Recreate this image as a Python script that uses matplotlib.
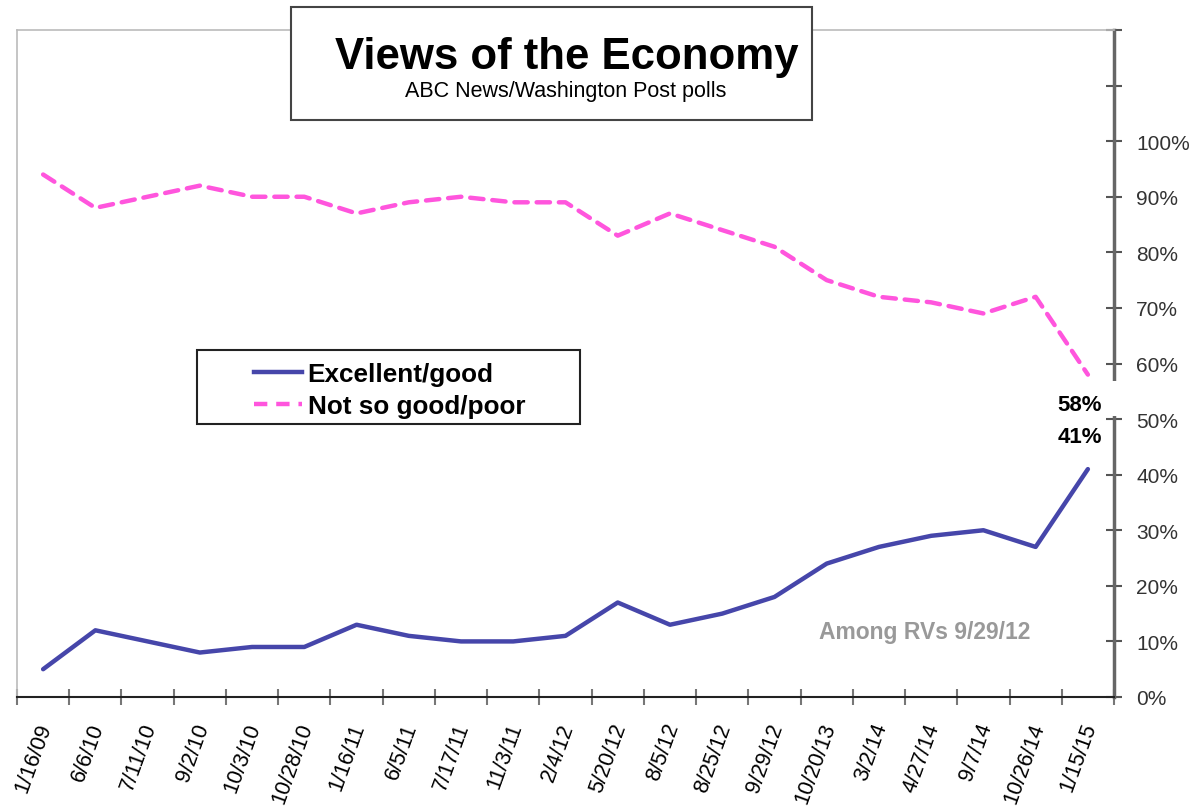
import matplotlib.pyplot as plt
import matplotlib.transforms as mtransforms
from matplotlib.patches import Rectangle
from matplotlib.lines import Line2D

plt.rcParams['font.family'] = ['Liberation Sans', 'DejaVu Sans']

dates = ["1/16/09", "6/6/10", "7/11/10", "9/2/10", "10/3/10", "10/28/10",
         "1/16/11", "6/5/11", "7/17/11", "11/3/11", "2/4/12", "5/20/12",
         "8/5/12", "8/25/12", "9/29/12", "10/20/13", "3/2/14", "4/27/14",
         "9/7/14", "10/26/14", "1/15/15"]
good = [5, 12, 10, 8, 9, 9, 13, 11, 10, 10, 11, 17, 13, 15, 18, 24, 27, 29, 30, 27, 41]
poor = [94, 88, 90, 92, 90, 90, 87, 89, 90, 89, 89, 83, 87, 84, 81, 75, 72, 71, 69, 72, 58]
yticks = [0, 10, 20, 30, 40, 50, 60, 70, 80, 90, 100]

BLUE = "#4646AA"
PINK = "#FF55DD"

W, H = 1199, 812
fig = plt.figure(figsize=(W / 100, H / 100), dpi=100)
ax = fig.add_axes([17 / W, (H - 698) / H, (1114 - 17) / W, (698 - 31) / H])

x = list(range(len(dates)))
ax.plot(x, good, color=BLUE, lw=3.2, solid_capstyle='round', zorder=4)
ax.plot(x, poor, color=PINK, lw=3.2, dashes=(3, 2), dash_capstyle='round', zorder=4)

ax.set_xlim(-0.5, len(dates) - 0.5)
ax.set_ylim(0, 120)

# category axis: labels at centers, ticks between
ax.set_xticks(x)
ax.set_xticklabels(dates, rotation=70, rotation_mode='anchor', ha='right', va='center',
                   fontsize=15.5)
ax.tick_params(axis='x', which='major', length=0, pad=19)
shift = mtransforms.ScaledTranslation(3 / 100, 0, fig.dpi_scale_trans)
for lab in ax.get_xticklabels():
    lab.set_transform(lab.get_transform() + shift)
ax.set_xticks([i - 0.5 for i in range(len(dates) + 1)], minor=True)
ax.tick_params(axis='x', which='minor', length=12, direction='inout', color='#777777', width=1.5)

# right value axis
ax.yaxis.tick_right()
ax.set_yticks(yticks + [110, 120])
ax.set_yticklabels([f"{v}%" for v in yticks] + ["", ""])
ax.tick_params(axis='y', which='major', length=12, direction='inout', color='#555555',
               width=1.5, labelsize=15, labelcolor='#333333', pad=10)

for side in ['left', 'top']:
    ax.spines[side].set_color('#bbbbbb')
    ax.spines[side].set_linewidth(1.2)
ax.spines['right'].set_color('#666666')
ax.spines['right'].set_linewidth(2.5)
ax.spines['bottom'].set_color('#222222')
ax.spines['bottom'].set_linewidth(1.5)

# white patch behind the end labels breaks the right axis
ax.add_patch(Rectangle((19.3, 50.5), 1.4, 6.3, fc='white', ec='none', zorder=5, clip_on=False))
ax.text(19.85, 52.7, f"{poor[-1]}%", fontsize=16, fontweight='bold', ha='center', va='center',
        zorder=6, clip_on=False)
ax.text(19.85, 46.8, f"{good[-1]}%", fontsize=16, fontweight='bold', ha='center', va='center',
        zorder=6, clip_on=False)
ax.text(16.88, 11.7, "Among RVs 9/29/12", fontsize=16.5, fontweight='bold', color='#999999',
        ha='center', va='center')

# title box
fig.add_artist(Rectangle((291 / W, 1 - 121 / H), (812 - 291) / W, (121 - 8) / H,
                         transform=fig.transFigure, fc='white', ec='#444444', lw=1.5, zorder=5))
fig.text(567 / W, 1 - 57 / H, "Views of the Economy", fontsize=31.5, fontweight='bold',
         ha='center', va='center', zorder=6)
fig.text(566 / W, 1 - 92 / H, "ABC News/Washington Post polls", fontsize=15.5,
         ha='center', va='center', zorder=6)

# legend box
fig.add_artist(Rectangle((197 / W, 1 - 425 / H), (580 - 197) / W, (425 - 351) / H,
                         transform=fig.transFigure, fc='white', ec='#222222', lw=1.5, zorder=5))
handles = [Line2D([], [], color=BLUE, lw=3.2),
           Line2D([], [], color=PINK, lw=3.2, dashes=(3, 2))]
leg = fig.legend(handles, ["Excellent/good", "Not so good/poor"], loc='center left',
                 bbox_to_anchor=(241 / W, 1 - 391 / H), frameon=False,
                 prop=dict(size=18.8, weight='bold'), handlelength=1.85, handletextpad=0.2,
                 labelspacing=0.3, borderpad=0)
leg.set_zorder(6)

fig.savefig("out.png", dpi=100)
